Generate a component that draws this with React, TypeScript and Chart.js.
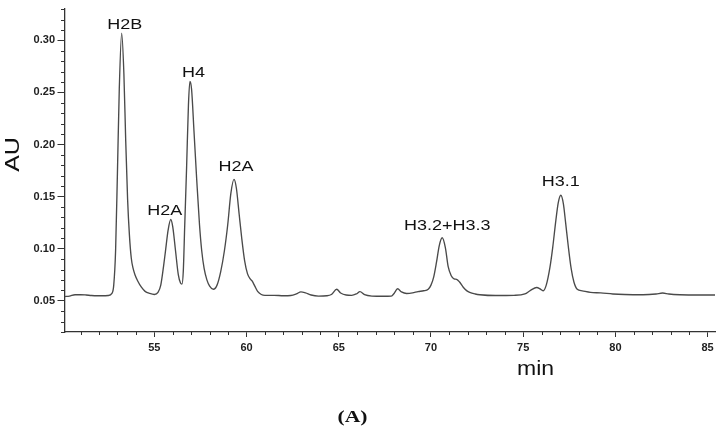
import React, { useEffect, useRef } from "react";
import { Chart, registerables } from "chart.js";

Chart.register(...registerables);

// Retention time (min) and absorbance (AU)
const times = [
  50.13, 50.4, 50.7, 51.0, 51.3, 51.6, 51.9, 52.2, 52.5, 52.7, 52.8, 52.9, 53.0, 53.1, 53.23,
  53.35, 53.45, 53.55, 53.65, 53.75, 53.85, 53.95, 54.1, 54.3, 54.5, 54.75, 55.0, 55.2, 55.35,
  55.5, 55.6, 55.75, 55.89, 56.0, 56.15, 56.3, 56.42, 56.5, 56.57, 56.65, 56.75, 56.85, 56.93,
  57.02, 57.15, 57.3, 57.45, 57.57, 57.7, 57.85, 58.0, 58.2, 58.4, 58.6, 58.8, 58.98, 59.15,
  59.32, 59.45, 59.6, 59.74, 59.9, 60.05, 60.2, 60.3, 60.45, 60.6, 60.8, 61.0, 61.5, 62.0,
  62.4, 62.7, 62.95, 63.2, 63.5, 63.9, 64.35, 64.6, 64.89, 65.1, 65.4, 65.7, 65.95, 66.15,
  66.4, 66.8, 67.4, 67.85, 68.0, 68.19, 68.4, 68.68, 69.0, 69.3, 69.6, 69.85, 70.0, 70.15,
  70.3, 70.45, 70.61, 70.78, 70.93, 71.1, 71.25, 71.39, 71.55, 71.75, 71.95, 72.1, 72.4,
  72.65, 73.5, 74.5, 75.09, 75.4, 75.73, 75.95, 76.09, 76.25, 76.45, 76.6, 76.77, 76.9,
  77.04, 77.18, 77.3, 77.44, 77.6, 77.75, 77.93, 78.2, 78.65, 79.2, 79.86, 80.5, 81.5, 82.2,
  82.56, 82.9, 83.5, 84.5, 85.4,
];
const absorbance = [
  0.051, 0.0515, 0.0528, 0.0528, 0.0525, 0.052, 0.0518, 0.0518, 0.052, 0.054, 0.062, 0.095, 0.17, 0.25, 0.304,
  0.265, 0.2, 0.145, 0.11, 0.088, 0.078, 0.072, 0.066, 0.06, 0.056, 0.054, 0.053, 0.055, 0.062,
  0.08, 0.094, 0.115, 0.125, 0.118, 0.095, 0.072, 0.064, 0.063, 0.075, 0.12, 0.175, 0.235, 0.2575,
  0.25, 0.21, 0.163, 0.12, 0.095, 0.078, 0.067, 0.061, 0.058, 0.062, 0.075, 0.095, 0.12, 0.15,
  0.1635, 0.155, 0.13, 0.107, 0.085, 0.073, 0.068, 0.066, 0.061, 0.056, 0.053, 0.0522, 0.0522, 0.0518,
  0.052, 0.0535, 0.0555, 0.0545, 0.0525, 0.0515, 0.0518, 0.053, 0.058, 0.0545, 0.0525, 0.0522, 0.0535, 0.0557,
  0.0528, 0.0515, 0.0513, 0.0515, 0.054, 0.0585, 0.0555, 0.054, 0.0545, 0.0558, 0.0566, 0.058, 0.062, 0.07,
  0.084, 0.1, 0.1075, 0.098, 0.08, 0.071, 0.068, 0.0676, 0.065, 0.06, 0.0565, 0.055, 0.0535,
  0.0528, 0.052, 0.0522, 0.0535, 0.057, 0.0597, 0.058, 0.0566, 0.062, 0.079, 0.098, 0.124, 0.141,
  0.1483, 0.14, 0.122, 0.1, 0.078, 0.065, 0.058, 0.0565, 0.055, 0.0545, 0.0535, 0.053, 0.0528, 0.0535,
  0.0544, 0.0535, 0.0528, 0.0525, 0.0525,
];

// Peak annotations
const peakNames = ["H2B", "H2A", "H4", "H2A", "H3.2+H3.3", "H3.1"];
const peakTimes = [53.23, 55.89, 56.93, 59.32, 70.61, 77.04];
const peakValues = [0.304, 0.125, 0.2575, 0.1635, 0.1075, 0.1483];
// label offsets from the peak apex (pixels): [dx, dy to text centre]
const peakLabelOffsets = [[3, -9], [-6, -10], [3.5, -10], [2, -13.5], [5, -13.5], [0, -14.7]];

const xMin = 50.13;
const xMax = 85.4;
const yMin = 0.017;
const yMax = 0.327;

const xTitle = "min";
const yTitle = "AU";
const panelLabel = "(A)";

const AXIS = "#333333";
const TICK_FONT = { family: "'Liberation Sans', Arial, sans-serif", size: 11, weight: "bold" as const };

function drawText(ctx: CanvasRenderingContext2D, text: string, x: number, y: number, font: string, sx: number, rot = 0) {
  ctx.save();
  ctx.translate(x, y);
  ctx.rotate(rot);
  ctx.scale(sx, 1);
  ctx.font = font;
  ctx.fillStyle = "#111";
  ctx.textAlign = "center";
  ctx.textBaseline = "alphabetic";
  ctx.fillText(text, 0, 0);
  ctx.restore();
}

const isMajorX = (v: number) => Math.abs(Math.round(v) % 5) === 0 && Math.abs(v - Math.round(v)) < 1e-6;
const isMajorY = (v: number) => Math.abs(Math.round(v * 100) % 5) === 0;

const decorPlugin = {
  id: "decor",
  afterDraw(chart: any) {
    const ctx: CanvasRenderingContext2D = chart.ctx;
    const xs = chart.scales.x;
    const ys = chart.scales.y;
    const area = chart.chartArea;
    // minor ticks
    ctx.save();
    ctx.strokeStyle = AXIS;
    ctx.lineWidth = 1;
    ctx.beginPath();
    xs.ticks.forEach((t: any) => {
      if (isMajorX(t.value)) return;
      const px = Math.round(xs.getPixelForValue(t.value)) + 0.5;
      ctx.moveTo(px, area.bottom);
      ctx.lineTo(px, area.bottom + 3);
    });
    ys.ticks.forEach((t: any) => {
      if (isMajorY(t.value)) return;
      const py = Math.round(ys.getPixelForValue(t.value)) + 0.5;
      ctx.moveTo(area.left, py);
      ctx.lineTo(area.left - 3.5, py);
    });
    ctx.stroke();
    ctx.restore();

    // peak labels
    const peakFont = "15px 'Liberation Sans', Arial, sans-serif";
    peakNames.forEach((name, i) => {
      const px = xs.getPixelForValue(peakTimes[i]) + peakLabelOffsets[i][0];
      const py = ys.getPixelForValue(peakValues[i]) + peakLabelOffsets[i][1] + 5.4;
      drawText(ctx, name, px, py, peakFont, 1.2);
    });

    // axis titles and panel label
    drawText(ctx, xTitle, 535.5, 375, "20px 'Liberation Sans', Arial, sans-serif", 1.15);
    drawText(ctx, yTitle, 19, 154.5, "20px 'Liberation Sans', Arial, sans-serif", 1.25, -Math.PI / 2);
    drawText(ctx, panelLabel, 352.5, 422, "bold 16px 'Liberation Serif', 'Times New Roman', serif", 1.35);
  },
};

export default function App() {
  const ref = useRef<HTMLCanvasElement | null>(null);

  useEffect(() => {
    if (!ref.current) return;
    const chart = new Chart(ref.current, {
      type: "line",
      data: {
        datasets: [
          {
            data: times.map((t, i) => ({ x: t, y: absorbance[i] })),
            borderColor: "#4a4a4a",
            borderWidth: 1.35,
            pointRadius: 0,
            fill: false,
            cubicInterpolationMode: "monotone",
          },
        ],
      },
      options: {
        animation: false,
        responsive: false,
        devicePixelRatio: 1,
        layout: { padding: { top: 3, right: 5, left: 0, bottom: 0 } },
        plugins: { legend: { display: false }, tooltip: { enabled: false }, title: { display: false } },
        scales: {
          x: {
            type: "linear",
            min: xMin,
            max: xMax,
            afterBuildTicks: (s: any) => {
              s.ticks = s.ticks.filter((t: any) => t.value >= s.min && t.value <= s.max);
            },
            afterFit: (s: any) => {
              s.height = 99;
            },
            ticks: {
              stepSize: 1,
              autoSkip: false,
              maxRotation: 0,
              includeBounds: false,
              padding: 4,
              color: "#222",
              font: TICK_FONT,
              callback: (v: any) => (isMajorX(Number(v)) ? String(v) : ""),
            },
            grid: {
              drawOnChartArea: false,
              drawTicks: true,
              tickLength: 5,
              tickWidth: 1,
              tickColor: (c: any) => (c.tick && isMajorX(c.tick.value) ? AXIS : "rgba(0,0,0,0)"),
            },
            border: { display: true, color: AXIS, width: 1.3 },
          },
          y: {
            type: "linear",
            min: yMin,
            max: yMax,
            afterBuildTicks: (s: any) => {
              s.ticks = s.ticks.filter((t: any) => t.value >= s.min && t.value <= s.max);
            },
            afterFit: (s: any) => {
              s.width = 64.5;
            },
            ticks: {
              stepSize: 0.01,
              autoSkip: false,
              includeBounds: false,
              padding: 2.5,
              color: "#222",
              font: TICK_FONT,
              callback: (v: any) => (isMajorY(Number(v)) ? Number(v).toFixed(2) : ""),
            },
            grid: {
              drawOnChartArea: false,
              drawTicks: true,
              tickLength: 7,
              tickWidth: 1,
              tickColor: (c: any) => (c.tick && isMajorY(c.tick.value) ? AXIS : "rgba(0,0,0,0)"),
            },
            border: { display: true, color: AXIS, width: 1.3 },
          },
        },
      },
      plugins: [decorPlugin],
    });
    return () => chart.destroy();
  }, []);

  return (
    <div style={{ position: "fixed", left: 0, top: 0, width: 720, height: 431, background: "#fff" }}>
      <canvas ref={ref} width={720} height={431} style={{ display: "block", width: 720, height: 431 }} />
    </div>
  );
}
